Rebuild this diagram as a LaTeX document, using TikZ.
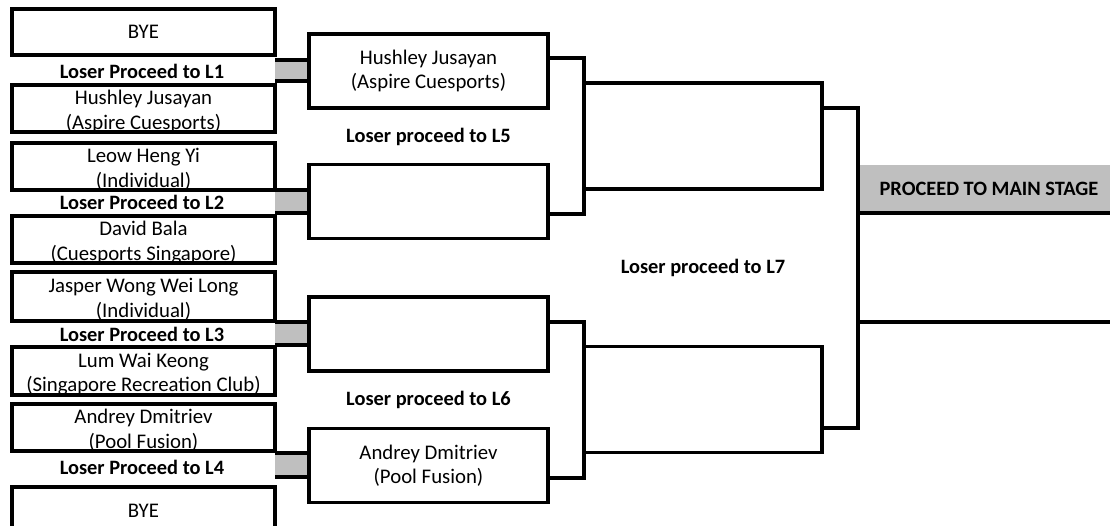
\documentclass[tikz,border=0pt]{standalone}
\usepackage{fontspec}
\setmainfont{Carlito}
\usepackage{xcolor}
\usepackage{tikz}
\definecolor{cellgray}{RGB}{191,191,191}

\begin{document}
\begin{tikzpicture}[x=1pt,y=-1pt,
    every node/.style={font=\fontsize{20.8}{24.5}\selectfont},
    bye/.style={rectangle,draw,line width=3.6pt,outer sep=0pt,inner sep=0pt,minimum width=263pt,minimum height=47pt,align=center},
    team/.style={bye,text height=41.5pt,text depth=0pt},
    match/.style={rectangle,draw,line width=3.6pt,outer sep=0pt,inner sep=0pt,minimum width=239pt,minimum height=74pt,align=center},
    semi/.style={rectangle,draw,line width=3.6pt,outer sep=0pt,inner sep=0pt,minimum width=238pt,minimum height=106pt},
    loserbar/.style={rectangle,fill=cellgray,outer sep=0pt,inner sep=0pt,minimum width=34pt},
    notetext/.style={font=\fontsize{20.4}{24.5}\selectfont\bfseries},
    wire/.style={line width=3.6pt}]
    \useasboundingbox (0,0) rectangle (1110,525);
    \clip (0,0) rectangle (1110,525);

    % grey cells between the pairs
    \draw (292,70.5) node (g1) [loserbar,minimum height=21pt] {};
    \draw (292,201.5) node (g2) [loserbar,minimum height=23pt] {};
    \draw (292,333.5) node (g3) [loserbar,minimum height=23pt] {};
    \draw (292,465) node (g4) [loserbar,minimum height=24pt] {};
    \draw[wire] (g1.north west) -- (g1.north east) (g1.south west) -- (g1.south east);
    \draw[wire] (g2.north west) -- (g2.north east) (g2.south west) -- (g2.south east);
    \draw[wire] (g3.north west) -- (g3.north east) (g3.south west) -- (g3.south east);
    \draw[wire] (g4.north west) -- (g4.north east) (g4.south west) -- (g4.south east);

    % first round
    \draw (143.5,32) node (p1) [bye,minimum height=46pt] {BYE};
    \draw (143.5,108.5) node (p2) [team] {Hushley Jusayan\\(Aspire Cuesports)};
    \draw (143.5,166.5) node (p3) [team] {Leow Heng Yi\\(Individual)};
    \draw (143.5,239.5) node (p4) [team] {David Bala\\(Cuesports Singapore)};
    \draw (143.5,296.5) node (p5) [team,minimum height=49pt] {Jasper Wong Wei Long\\(Individual)};
    \draw (143.5,371) node (p6) [team,minimum height=48pt] {Lum Wai Keong\\(Singapore Recreation Club)};
    \draw (143.5,427.5) node (p7) [team] {Andrey Dmitriev\\(Pool Fusion)};
    \draw (143.5,510.5) node (p8) [bye] {BYE};

    \draw (142,71) node (l1) [notetext] {Loser Proceed to L1};
    \draw (142,202.5) node (l2) [notetext] {Loser Proceed to L2};
    \draw (142,334.5) node (l3) [notetext] {Loser Proceed to L3};
    \draw (142,467) node (l4) [notetext] {Loser Proceed to L4};

    % second round
    \draw (428.5,71) node (q1) [match] {Hushley Jusayan\\(Aspire Cuesports)};
    \draw (428.5,201.5) node (q2) [match] {};
    \draw (428.5,334) node (q3) [match] {};
    \draw (428.5,465.5) node (q4) [match] {Andrey Dmitriev\\(Pool Fusion)};
    \draw (428.5,136.5) node (l5) [notetext] {Loser proceed to L5};
    \draw (428.5,400) node (l6) [notetext] {Loser proceed to L6};

    % third round
    \draw (703,136) node (s1) [semi] {};
    \draw (703,399.5) node (s2) [semi] {};
    \draw (703,268) node (l7) [notetext] {Loser proceed to L7};

    \draw (989,189) node (fin) [rectangle,fill=cellgray,outer sep=0pt,inner sep=0pt,minimum width=262pt,minimum height=48pt,notetext] {PROCEED TO MAIN STAGE};
    \coordinate (out2) at (1120,322);

    \draw[wire] ([yshift=13pt]q1.east) -| (s1.west) |- ([yshift=-12.5pt]q2.east);
    \draw[wire] ([yshift=12pt]q3.east) -| (s2.west) |- ([yshift=-12.5pt]q4.east);
    \draw[wire] ([yshift=28pt]s1.east) -| (fin.south west) |- ([yshift=-28.5pt]s2.east);
    \draw[wire] (fin.south west) -- (fin.south east);
    \draw[wire] (out2 -| fin.west) -- (out2);
\end{tikzpicture}
\end{document}
